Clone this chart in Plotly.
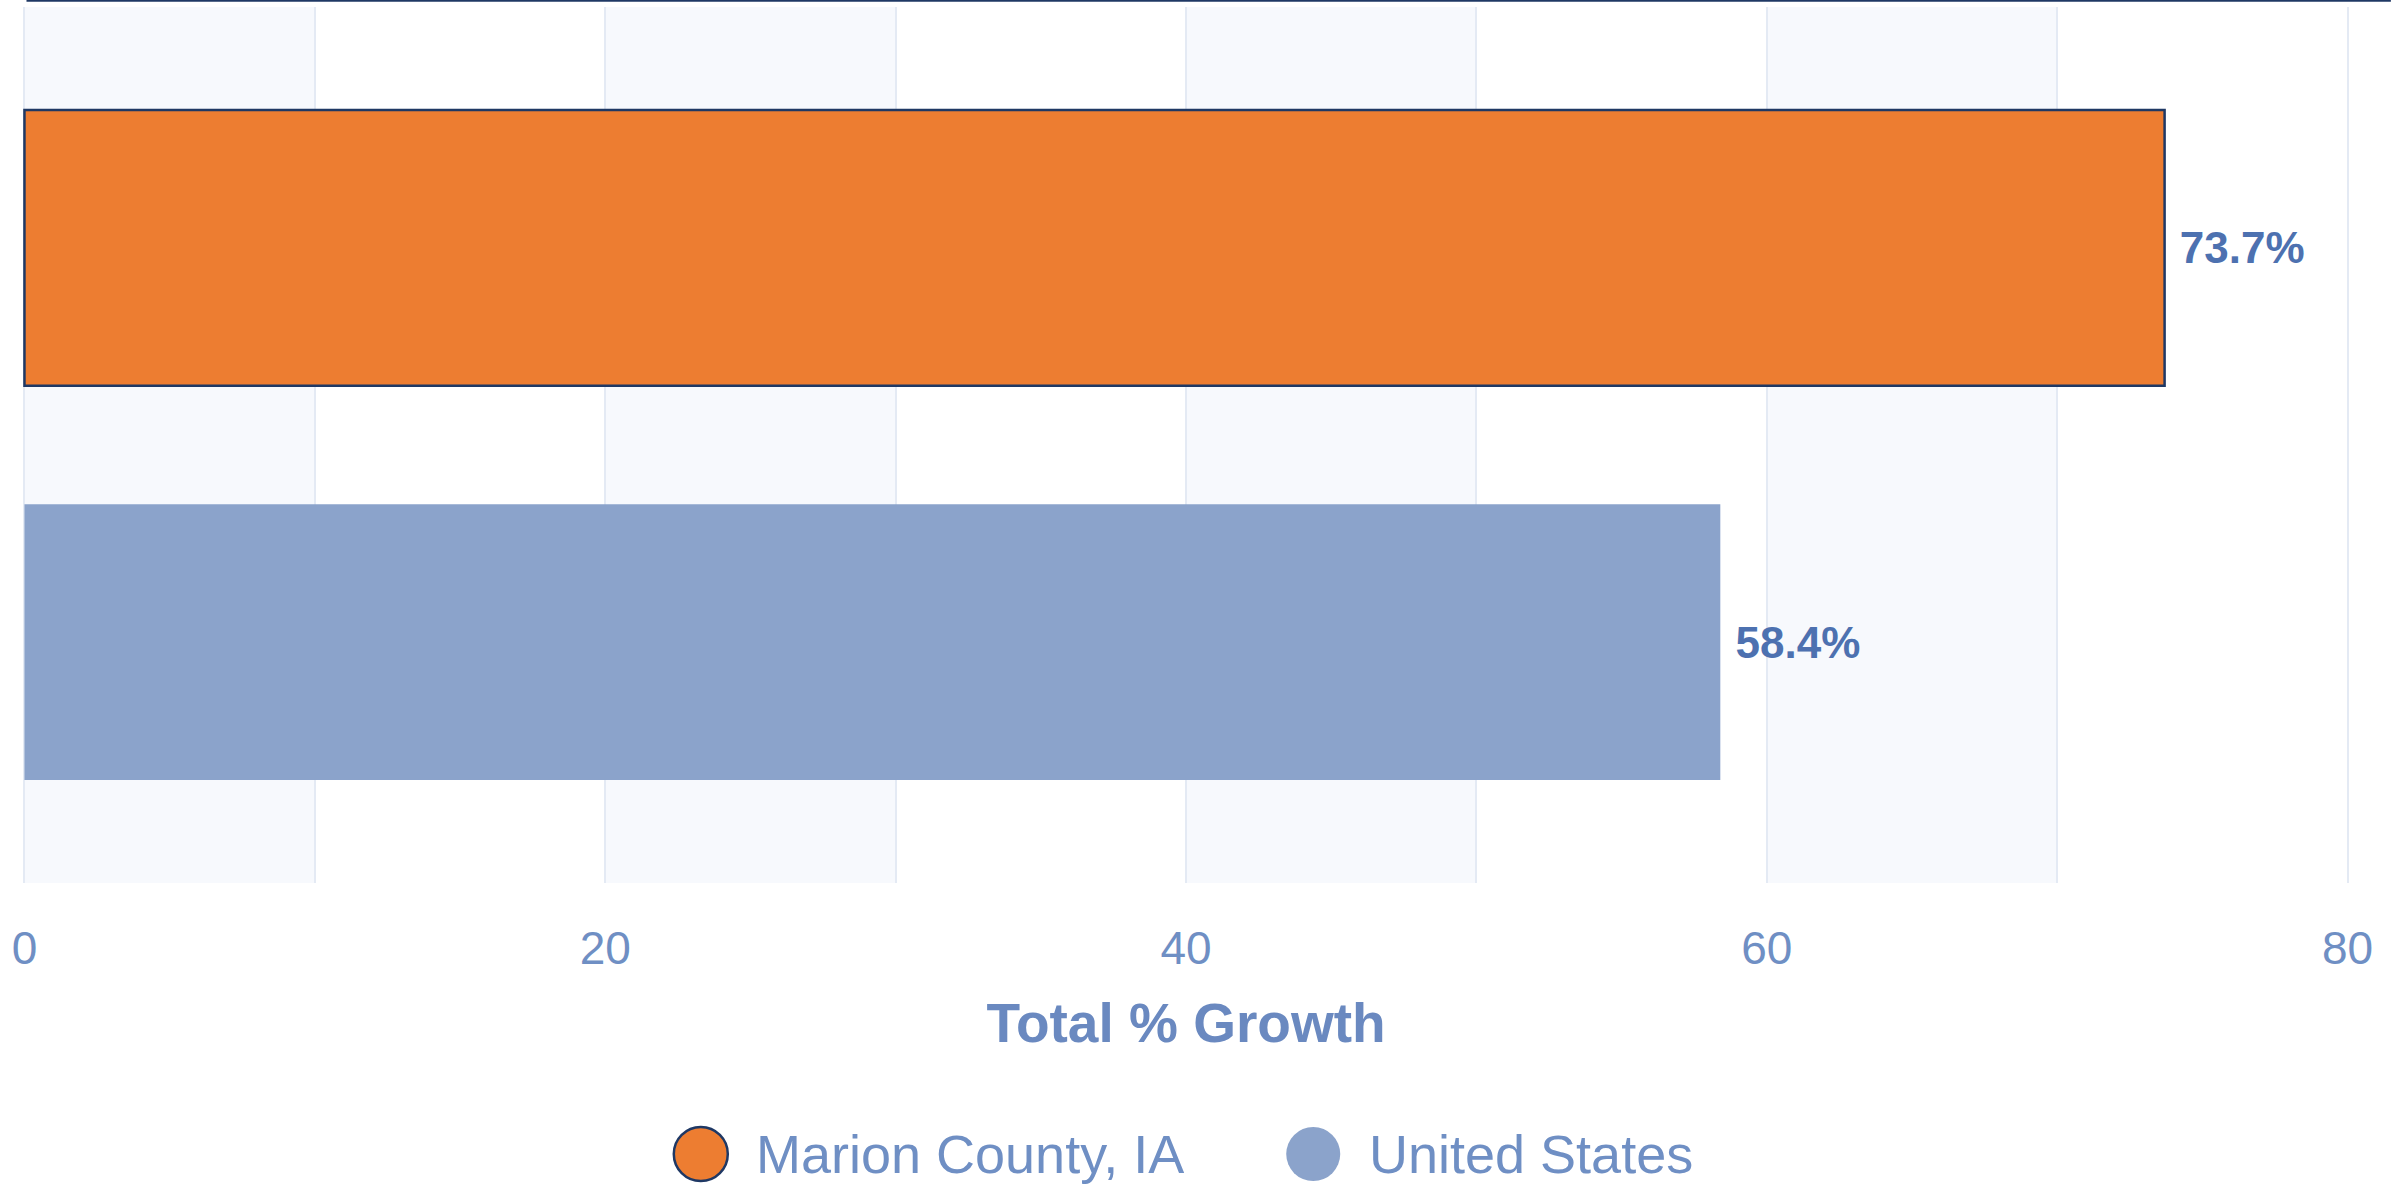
import plotly.graph_objects as go

# data
areas = ["Marion County, IA", "United States"]
growth = [73.7, 58.4]
category = ["Total % Growth"]
tick_vals = [0, 20, 40, 60, 80]

# styles
bar_colors = ["#ED7D31", "#8BA3CB"]
bar_lines = ["#1F3864", "rgba(0,0,0,0)"]
tick_color = "#6F8FC4"
label_color = "#4D71B0"
grid_color = "#E4EAF4"
font_family = "Arial, Liberation Sans, sans-serif"

fig = go.Figure()

for name, val, col, lc in zip(areas, growth, bar_colors, bar_lines):
    fig.add_trace(
        go.Bar(x=[val], y=category, name=name, orientation="h",
               marker=dict(color=col, line=dict(color=lc, width=2.5)),
               texttemplate="\u00a0%{x:.1f}%", textposition="outside",
               textfont=dict(size=44, color=label_color, family=font_family, weight="bold"),
               cliponaxis=False, showlegend=False)
    )

fig.update_layout(
    barmode="group",
    bargap=0.1,
    bargroupgap=0.3,
    width=2402,
    height=1191,
    margin=dict(l=23, r=53, t=7, b=308),
    plot_bgcolor="white",
    paper_bgcolor="white",
    font=dict(family=font_family, color=tick_color),
)

fig.update_xaxes(
    range=[tick_vals[0] - 0.05, tick_vals[-1] + 0.05],
    tickvals=tick_vals,
    showgrid=True, gridcolor=grid_color, gridwidth=2,
    minor=dict(dtick=10, showgrid=True, gridcolor=grid_color, gridwidth=2),
    zeroline=False, showline=False, ticks="",
    tickfont=dict(size=46, color=tick_color),
    ticklabelstandoff=34,
    title=dict(text="Total % Growth", standoff=30,
               font=dict(size=55, color="#6A89C0", weight="bold")),
)
fig.update_yaxes(showticklabels=False, showgrid=False, zeroline=False,
                 autorange="reversed")

# alternating background bands
for i in range(tick_vals[0], tick_vals[-1], 20):
    fig.add_shape(type="rect", xref="x", yref="paper", x0=i, x1=i + 10, y0=0, y1=1,
                  fillcolor="#F7F9FD", line_width=0, layer="below")

# dark rule along the top
fig.add_shape(type="line", xref="paper", yref="paper", x0=0.0015, x1=1.018,
              y0=1.0074, y1=1.0074, line=dict(color="#1F3864", width=2.5))

# legend with large round markers
legend_x = [0.2914, 0.5547]
legend_y = -0.3094
for name, col, lc, lx in zip(areas, bar_colors, bar_lines, legend_x):
    fig.add_shape(type="circle", xref="paper", yref="paper",
                  xsizemode="pixel", ysizemode="pixel",
                  xanchor=lx, yanchor=legend_y, x0=-27, x1=27, y0=-27, y1=27,
                  fillcolor=col, line=dict(color=lc, width=2.5))
    fig.add_annotation(text=name, xref="paper", yref="paper", x=lx + 0.023,
                       y=legend_y, xanchor="left", yanchor="middle", showarrow=False,
                       font=dict(size=54, color=tick_color))

fig.write_html("out.html", config={"displayModeBar": False},
               post_script="document.body.style.margin='0px';")
